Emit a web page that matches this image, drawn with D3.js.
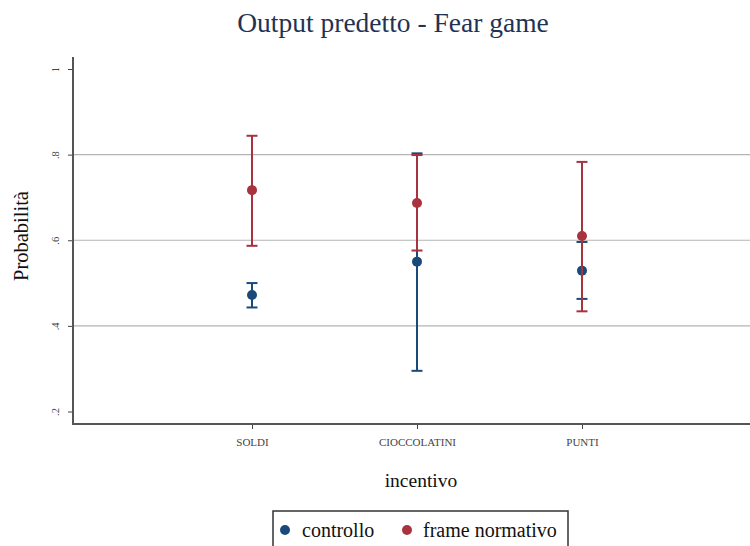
<!DOCTYPE html>
<html><head><meta charset="utf-8">
<script src="https://cdn.jsdelivr.net/npm/d3@7"></script>
<style>body{margin:0;background:#fff}svg{display:block}</style>
</head><body>
<script>
const categories = ["SOLDI", "CIOCCOLATINI", "PUNTI"];
const seriesNames = ["controllo", "frame normativo"];
const controlloMean = [0.472, 0.550, 0.529];
const controlloLow  = [0.443, 0.295, 0.463];
const controlloHigh = [0.500, 0.803, 0.596];
const frameMean = [0.717, 0.687, 0.610];
const frameLow  = [0.587, 0.576, 0.434];
const frameHigh = [0.844, 0.799, 0.783];
const yTicks = [0.2, 0.4, 0.6, 0.8, 1];
const yTickLabels = [".2", ".4", ".6", ".8", "1"];
const colors = ["#1a4a7a", "#a8323e"];

const W = 750, H = 546;
const svg = d3.select("body").append("svg").attr("width", W).attr("height", H);
const serif = "Liberation Serif, Times New Roman, serif";

const mLeft = 73, mTop = 57, mBottom = 424;
const x = d3.scaleLinear().domain([1, categories.length]).range([252, 582]);
const y = d3.scaleLinear().domain([0.2, 1]).range([411.5, 69]);

// gridlines
svg.append("g").selectAll("line").data([0.4, 0.6, 0.8]).join("line")
  .attr("x1", mLeft).attr("x2", W).attr("y1", d => y(d)).attr("y2", d => y(d))
  .attr("stroke", "#b4b4b4").attr("stroke-width", 1.2);

// y axis
const yAxis = d3.axisLeft(y).tickValues(yTicks).tickSize(5)
  .tickFormat((d, i) => yTickLabels[i]);
const gy = svg.append("g").attr("transform", `translate(${mLeft},0)`).call(yAxis);
gy.select(".domain").remove();
gy.selectAll(".tick line").attr("stroke", "#444").attr("stroke-width", 1);
gy.selectAll(".tick text").attr("font-family", serif).attr("font-size", 10.5).attr("fill", "#444")
  .attr("x", 0).attr("dy", 0).attr("text-anchor", "middle")
  .attr("transform", "translate(-14,0) rotate(-90)");
svg.append("line").attr("x1", mLeft).attr("x2", mLeft).attr("y1", mTop).attr("y2", mBottom + 1)
  .attr("stroke", "#555").attr("stroke-width", 2);

// x axis
const xAxis = d3.axisBottom(x).tickValues(categories.map((c, i) => i + 1)).tickSize(5)
  .tickFormat((d) => categories[d - 1]);
const gx = svg.append("g").attr("transform", `translate(0,${mBottom})`).call(xAxis);
gx.select(".domain").remove();
gx.selectAll(".tick line").attr("stroke", "#444");
gx.selectAll(".tick text").attr("font-family", serif).attr("font-size", 11).attr("fill", "#444")
  .attr("y", 22).attr("dy", 0);
svg.append("line").attr("x1", mLeft - 1).attr("x2", W).attr("y1", mBottom).attr("y2", mBottom)
  .attr("stroke", "#555").attr("stroke-width", 2);

// series
const series = [
  {name: seriesNames[0], mean: controlloMean, lo: controlloLow, hi: controlloHigh, color: colors[0]},
  {name: seriesNames[1], mean: frameMean, lo: frameLow, hi: frameHigh, color: colors[1]}
];
const cap = 5.5;
series.forEach(s => {
  const g = svg.append("g");
  const data = categories.map((c, i) => ({i: i + 1, m: s.mean[i], lo: s.lo[i], hi: s.hi[i]}));
  g.selectAll(".v").data(data).join("line")
    .attr("x1", d => x(d.i)).attr("x2", d => x(d.i))
    .attr("y1", d => y(d.lo)).attr("y2", d => y(d.hi))
    .attr("stroke", s.color).attr("stroke-width", 2);
  ["lo", "hi"].forEach(k => {
    g.selectAll(".c" + k).data(data).join("line")
      .attr("x1", d => x(d.i) - cap).attr("x2", d => x(d.i) + cap)
      .attr("y1", d => y(d[k])).attr("y2", d => y(d[k]))
      .attr("stroke", s.color).attr("stroke-width", 2);
  });
  g.selectAll("circle").data(data).join("circle")
    .attr("cx", d => x(d.i)).attr("cy", d => y(d.m)).attr("r", 5)
    .attr("fill", s.color);
});

// title & labels
svg.append("text").attr("x", 393).attr("y", 32).attr("text-anchor", "middle")
  .attr("font-family", serif).attr("font-size", 27.5).attr("fill", "#1f3354")
  .text("Output predetto - Fear game");
svg.append("text").attr("transform", "translate(28,236) rotate(-90)").attr("text-anchor", "middle")
  .attr("font-family", serif).attr("font-size", 20.5).attr("fill", "#111").text("Probabilità");
svg.append("text").attr("x", 421).attr("y", 487).attr("text-anchor", "middle")
  .attr("font-family", serif).attr("font-size", 19.5).attr("fill", "#111").text("incentivo");

// legend
svg.append("rect").attr("x", 273).attr("y", 511).attr("width", 295).attr("height", 45)
  .attr("fill", "#fff").attr("stroke", "#333").attr("stroke-width", 1.5);
const leg = [{x: 285, tx: 302}, {x: 407, tx: 423}];
series.forEach((s, i) => {
  svg.append("circle").attr("cx", leg[i].x).attr("cy", 530).attr("r", 5).attr("fill", s.color);
  svg.append("text").attr("x", leg[i].tx).attr("y", 537).attr("font-family", serif)
    .attr("font-size", 20).attr("fill", "#111").text(s.name);
});
</script>
</body></html>
